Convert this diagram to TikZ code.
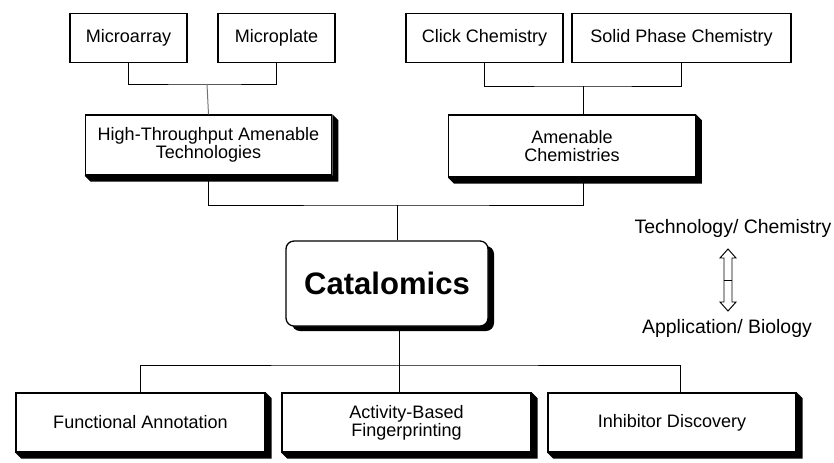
\documentclass[tikz,border=0pt]{standalone}
\usepackage{fontspec}
\setmainfont{Liberation Sans}
\usetikzlibrary{calc,shadows}

% raised-box shadow, drawn after the node
\newcommand{\bevel}[1]{%
  \fill[black] (#1.north east) -- ++(6,6) -- ([shift={(6,6)}]#1.south east)
    -- ([shift={(6,6)}]#1.south west) -- (#1.south west) -- (#1.south east) -- cycle;}

\begin{document}
\begin{tikzpicture}[
    x=0.03cm, y=-0.03cm,
    leaf/.style={draw, line width=1.1pt, fill=white, inner sep=0pt, align=center,
        minimum height=1.45cm, font=\fontsize{15.4pt}{15.5pt}\selectfont},
    branch/.style={leaf, minimum width=7.4cm, minimum height=1.8cm},
    corebox/.style={draw, line width=1.1pt, fill=white, rounded corners=0.24cm,
        minimum width=6.06cm, minimum height=2.55cm,
        font=\fontsize{26.5pt}{28pt}\selectfont\bfseries,
        drop shadow={fill=black, opacity=1, shadow xshift=0.18cm, shadow yshift=-0.15cm}},
    link/.style={line width=0.85pt},
    axis/.style={font=\fontsize{16.6pt}{18pt}\selectfont}
]

\useasboundingbox (0,0) rectangle (834,462);

% Top row
\node[leaf, minimum width=3.51cm] (marray) at (128.5,38) {Microarray};
\node[leaf, minimum width=3.51cm] (mplate) at (276.5,38) {Microplate};
\node[leaf, minimum width=4.71cm] (click) at (484.5,38) {Click Chemistry};
\node[leaf, minimum width=6.57cm] (solid) at (681.5,38) {Solid Phase Chemistry};

% Second row
\node[branch] (htech) at (208.5,145) {High-Throughput Amenable\\Technologies};
\bevel{htech}
\node[branch, minimum height=1.86cm] (amen) at (572,146) {Amenable\\Chemistries};
\bevel{amen}

% Centre
\node[corebox] (cat) at (387,283.5) {Catalomics};

% Bottom row
\node[branch, minimum width=7.47cm, minimum height=1.77cm] (func) at (140.5,422.5) {Functional Annotation};
\bevel{func}
\node[branch, minimum width=7.47cm, minimum height=1.77cm] (activ) at (406.5,422.5) {Activity-Based\\Fingerprinting};
\bevel{activ}
\node[branch, minimum width=7.44cm, minimum height=1.77cm] (inhib) at (672,422.5) {Inhibitor Discovery};
\bevel{inhib}

% Junctions
\coordinate (j1) at (207,84);
\coordinate (j2) at (583,86);
\coordinate (j3) at (397,205);
\coordinate (j4) at (399,365);
\coordinate (j5) at (680,365);

% Connectors
\draw[link] (marray.south) |- (j1) -| (mplate.south);
\draw[link, black!55] (j1) -- (htech.north);
\draw[link] (click.south) |- (j2) -| (solid.south);
\draw[link] (j2) -- (amen.north -| j2);
\draw[link] (htech.south) |- (j3) -| (amen.south -| j2);
\draw[link] (j3) -- (cat.north -| j3);
\draw[link] (cat.south -| j4) -- (j4);
\draw[link] (func.north) |- (j4) -- (j5) -- (inhib.north -| j5);
\draw[link] (j4) -- (activ.north -| j4);

% Technology / Biology axis
\node[axis] (tech) at (733,228) {Technology/ Chemistry};
\node[axis] (appl) at (727,328) {Application/ Biology};
\coordinate (dtop) at (728,249);
\draw[line width=0.8pt] (dtop) -- ++(8,9) -- ++(-4,0) -- ++(0,44) -- ++(4,0) -- ++(-8,9)
    -- ++(-8,-9) -- ++(4,0) -- ++(0,-44) -- ++(-4,0) -- cycle;
\draw[line width=0.8pt] ([shift={(-4,31)}]dtop) -- ++(8,0);

\end{tikzpicture}
\end{document}
